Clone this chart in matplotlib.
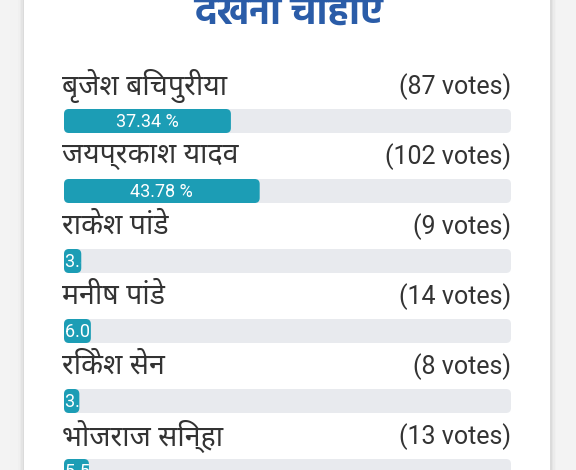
import matplotlib
matplotlib.use("Agg")
import matplotlib.pyplot as plt
from matplotlib.patches import FancyBboxPatch, Rectangle
from matplotlib.transforms import Bbox

# poll results
names = ["बृजेश बिचपुरीया", "जयप्रकाश यादव", "राकेश पांडे", "मनीष पांडे", "रिकेश सेन", "भोजराज सिन्हा"]
votes = [87, 102, 9, 14, 8, 13]
title = "देखना चाहिए"

total = sum(votes)
pcts = [v / total * 100 for v in votes]

fig = plt.figure(figsize=(5.76, 4.70), dpi=100)
fig.patch.set_facecolor("#f3f3f3")
ax = fig.add_axes([0, 0, 1, 1])
ax.set_xlim(0, 576)
ax.set_ylim(470, 0)
ax.axis("off")

# card with a soft shadow on the sides
for i, a in enumerate([0.03, 0.05, 0.08, 0.12]):
    d = 6 - i * 1.5
    ax.add_patch(Rectangle((24 - d, -10), 526 + 2 * d, 500, color="#9a9a9a", alpha=a, lw=0))
ax.add_patch(Rectangle((24, -10), 526, 500, color="white", lw=0))

ax.text(288, 24, title, ha="center", va="baseline", fontsize=28, color="#2a5ca8",
        family=["Hind", "Noto Sans Devanagari"], fontweight="bold")

left, width, h = 64, 447, 24
for i, (n, v, p) in enumerate(zip(names, votes, pcts)):
    y = 121 + 70 * i
    ax.text(62, y - 35, n, ha="left", va="center", fontsize=20.5, color="#333333",
            family="Noto Sans Devanagari")
    ax.text(511, y - 34, "(%d votes)" % v, ha="right", va="center", fontsize=18,
            color="#333333", family="Roboto")
    ax.add_patch(FancyBboxPatch((left, y - h / 2), width, h, boxstyle="round,pad=0,rounding_size=5",
                                fc="#e8eaee", ec="none"))
    w = p / 100 * width
    bar = FancyBboxPatch((left, y - h / 2), w, h, boxstyle="round,pad=0,rounding_size=5",
                         fc="#1c9db5", ec="none")
    ax.add_patch(bar)
    if w >= 70:
        t = ax.text(left + w / 2, y + 1, "%.2f %%" % p, ha="center", va="center",
                    fontsize=13, color="white", family="Roboto")
    else:
        t = ax.text(left + 1, y + 1, "%.2f %%" % p, ha="left", va="center",
                    fontsize=13, color="white", family="Roboto")
    # agg clips text only to a box, so use the bar's extent
    pts = ax.transData.transform([[left, y - h / 2], [left + w, y + h / 2]])
    t.set_clip_on(True)
    t.set_clip_box(Bbox.from_extents(pts[:, 0].min(), pts[:, 1].min(),
                                     pts[:, 0].max(), pts[:, 1].max()))

fig.savefig("out.png", dpi=100, facecolor=fig.get_facecolor())
